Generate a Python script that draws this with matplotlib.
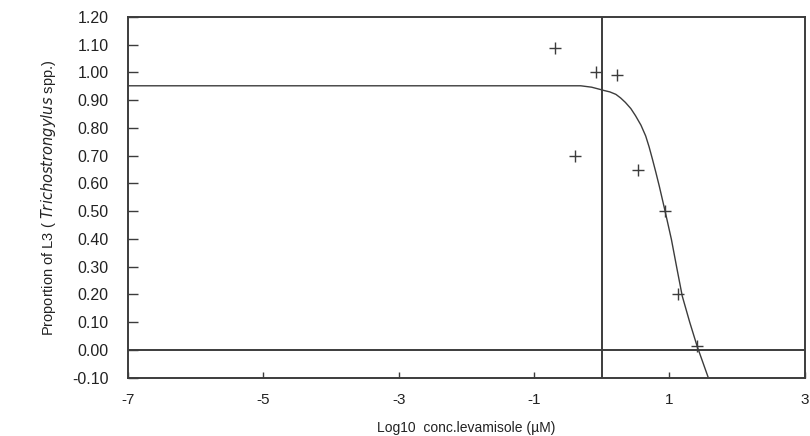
import numpy as np
import matplotlib.pyplot as plt

plt.rcParams['font.family'] = ['Liberation Sans', 'DejaVu Sans']
plt.rcParams['mathtext.fontset'] = 'custom'
plt.rcParams['mathtext.rm'] = 'Liberation Sans Narrow'
plt.rcParams['mathtext.it'] = 'Liberation Sans Narrow:italic'

# observed proportions (crosses)
obs_x = [-0.69, -0.08, 0.23, -0.39, 0.54, 0.93, 1.13, 1.41]
obs_y = [1.09, 1.00, 0.99, 0.70, 0.65, 0.50, 0.20, 0.015]

# fitted curve
fit_x = [-7.0, -0.31, -0.15, -0.04, 0.035, 0.12, 0.21, 0.28, 0.35, 0.43, 0.50,
         0.58, 0.65, 0.70, 0.75, 0.80, 0.85, 0.93, 1.03, 1.11, 1.19, 1.30, 1.41, 1.57]
fit_y = [0.952, 0.952, 0.947, 0.940, 0.935, 0.930, 0.921, 0.908, 0.892, 0.870, 0.844,
         0.810, 0.771, 0.732, 0.687, 0.640, 0.591, 0.507, 0.398, 0.295, 0.194, 0.100, 0.013, -0.097]

xticks = [-7, -5, -3, -1, 1, 3]
yticks = np.round(np.arange(-0.10, 1.21, 0.10), 2)

col = '#3c3c3c'

fig = plt.figure(figsize=(8.1, 4.36), dpi=100)
ax = fig.add_axes([0.158, 0.134, 0.8355, 0.827])

ax.plot(fit_x, fit_y, color=col, lw=1.0)
ax.plot(obs_x, obs_y, '+', color=col, ms=9, mew=1.0)

ax.axvline(0, color=col, lw=1.4)
ax.axhline(0, color=col, lw=1.4)

ax.set_xlim(-7, 3)
ax.set_ylim(-0.10, 1.20)
ax.set_xticks(xticks)
ax.set_xticklabels([str(t) for t in xticks])
ax.set_yticks(yticks)
ax.set_yticklabels(['%.2f' % t for t in yticks])

ax.tick_params(axis='y', direction='in', length=7, width=1, color=col,
               labelsize=11.5, pad=14, labelcolor='#222222')
ax.tick_params(axis='x', direction='in', length=4, width=1, color=col,
               labelsize=11, pad=11, labelcolor='#222222')
for s in ax.spines.values():
    s.set_color(col)
    s.set_linewidth(1.4)

ax.set_xlabel('Log10  conc.levamisole (\u00b5M)', fontsize=10, color='#222222', labelpad=10)
ax.set_ylabel('Proportion of L3 ( $Trichostrongylus$ spp.)', fontsize=10.5,
              family=['Liberation Sans Narrow', 'Liberation Sans', 'DejaVu Sans'],
              color='#222222', labelpad=10)

fig.savefig('out.png', dpi=100)
